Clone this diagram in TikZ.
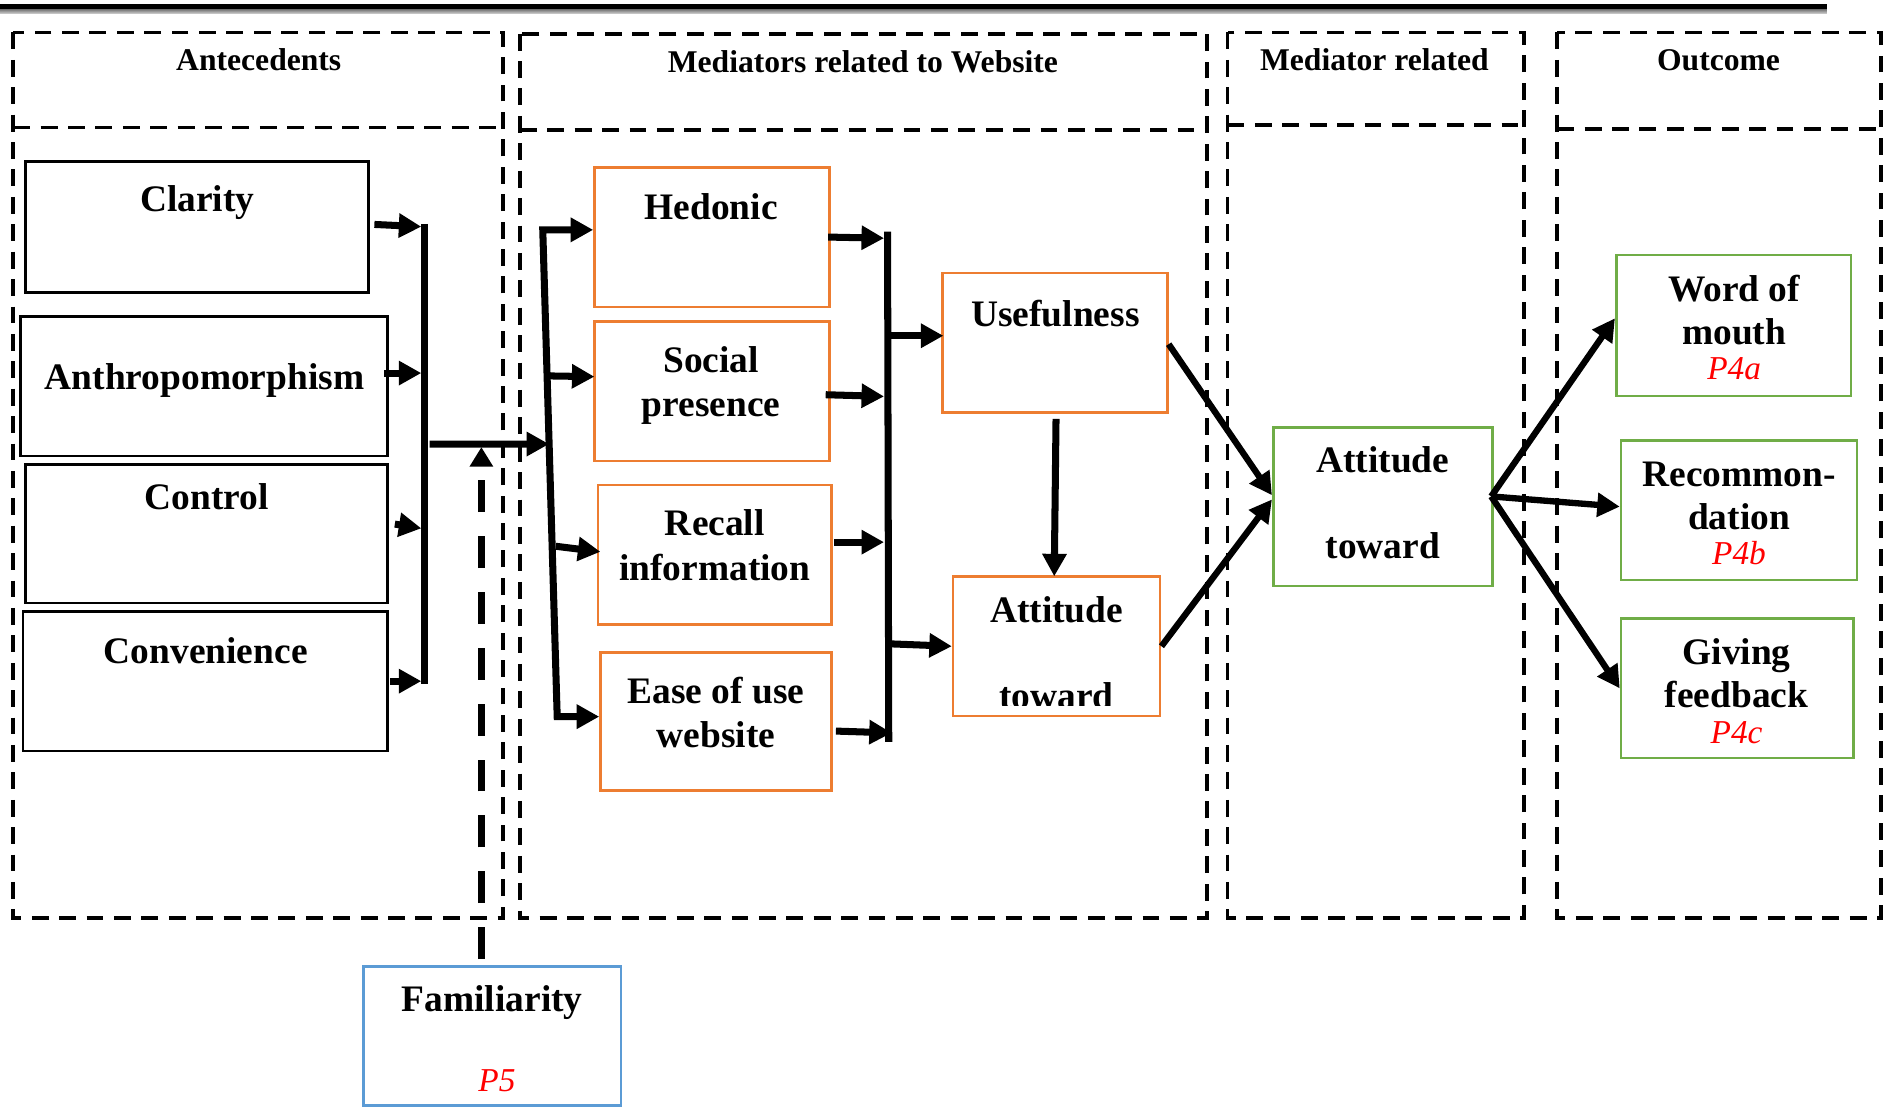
\documentclass[tikz,border=0pt]{standalone}
\usepackage{fontspec}
\setmainfont{Liberation Serif}
\usetikzlibrary{arrows.meta,fit,calc}

\definecolor{medorange}{HTML}{ED7D31}
\definecolor{outgreen}{HTML}{70AD47}
\definecolor{famblue}{HTML}{5B9BD5}
\definecolor{propred}{HTML}{FF0000}

\begin{document}
\begin{tikzpicture}[
  x=0.012034cm, y=-0.012034cm,
  panel/.style={line width=1.1pt, dash pattern=on 4.8pt off 3pt},
  cbox/.style={draw, line width=0.75pt, inner sep=0pt},
  antebox/.style={cbox, draw=black},
  medbox/.style={cbox, draw=medorange},
  outbox/.style={cbox, draw=outgreen},
  modbox/.style={cbox, draw=famblue},
  coltitle/.style={font=\fontsize{9}{11}\selectfont\bfseries, anchor=base, inner sep=0pt},
  boxtext/.style={font=\fontsize{10.65}{12.8}\selectfont\bfseries, anchor=base, inner sep=0pt},
  proptext/.style={font=\fontsize{9.5}{11}\selectfont\itshape, text=propred, anchor=base, inner sep=0pt},
  bus/.style={line width=2pt},
  flow/.style={line width=2pt, -{Triangle[length=6.4pt, width=6.6pt]}},
  twoflow/.style={line width=2pt, {Triangle[length=6.4pt, width=6.6pt]}-{Triangle[length=6.4pt, width=6.6pt]}},
  slant/.style={line width=1.8pt, -{Triangle[length=6.4pt, width=6.6pt]}},
  famflow/.style={line width=2.1pt, dash pattern=on 9.1pt off 6.8pt, dash phase=14.2pt,
                  -{Triangle[length=5.6pt, width=6.4pt]}}
]
\useasboundingbox (0,0) rectangle (1568,920);

% heavy rule along the top
\fill[black] (0,3.3) rectangle (1518,7.7);
\shade[top color=black!55, bottom color=black!15] (0,7.7) rectangle (1518,11.6);

% dashed column panels with their title rows
\foreach \xa/\xb/\ya/\ys in {11/418/27/106, 432/1003/28/108, 1020/1266/27/104, 1294/1563/27/107} {
  \draw[panel] (\xa,\ya) rectangle (\xb,763);
  \draw[panel] (\xa,\ys) -- (\xb,\ys);
}

\node[coltitle] (t-ante) at (215,59) {Antecedents};
\node[coltitle] (t-med) at (717,60.4) {Mediators related to Website};
\node[coltitle] (t-medr) at (1142,58.2) {Mediator related};
\node[coltitle] (t-out) at (1428,59) {Outcome};

% construct boxes
\node[antebox, fit={(21,134) (306,243)}] (clarity) {};
\node[antebox, fit={(17,263) (322,379)}] (anthro) {};
\node[antebox, fit={(21,386) (322,501)}] (control) {};
\node[antebox, fit={(19,508) (322,624)}] (conv) {};
\node[medbox, fit={(494,139) (689,255)}] (hedonic) {};
\node[medbox, fit={(494,267) (689,383)}] (social) {};
\node[medbox, fit={(497,403) (691,519)}] (recall) {};
\node[medbox, fit={(499,542) (691,657)}] (ease) {};
\node[medbox, fit={(783,227) (970,343)}] (useful) {};
\node[medbox, fit={(792,479) (964,595)}] (attw) {};
\node[outbox, fit={(1058,355) (1240,487)}] (attg) {};
\node[outbox, fit={(1343,212) (1538,329)}] (wom) {};
\node[outbox, fit={(1347,366) (1543,482)}] (rec) {};
\node[outbox, fit={(1347,514) (1540,630)}] (giv) {};
\node[modbox, fit={(302,803) (516,918.5)}] (fam) {};

% box captions
\node[boxtext] (clarity-l1) at (164,175.7) {Clarity};
\node[boxtext] (anthro-l1) at (170,323.3) {Anthropomorphism};
\node[boxtext] (control-l1) at (172,423.3) {Control};
\node[boxtext] (conv-l1) at (171,551.5) {Convenience};

\node[boxtext] (hedonic-l1) at (591,182.5) {Hedonic};
\node[boxtext] (social-l1) at (591,309.7) {Social};
\node[boxtext] (social-l2) at (591,346.3) {presence};
\node[boxtext] (recall-l1) at (594,445.3) {Recall};
\node[boxtext] (recall-l2) at (594,482) {information};
\node[boxtext] (ease-l1) at (595,584.4) {Ease of use};
\node[boxtext] (ease-l2) at (595,621) {website};
\node[boxtext] (useful-l1) at (877,271.3) {Usefulness};
\node[boxtext] (attw-l1) at (878,517.6) {Attitude};
\begin{scope}
  \clip ($(attw.north west)+(1,0)$) rectangle ($(attw.east)+(-1,49)$);
  \node[boxtext] (attw-l2) at (878,588.5) {toward};
\end{scope}

\node[boxtext] (attg-l1) at (1149,392.8) {Attitude};
\node[boxtext] (attg-l2) at (1149,464) {toward};
\node[boxtext] (wom-l1) at (1441,250.3) {Word of};
\node[boxtext] (wom-l2) at (1441,285.9) {mouth};
\node[proptext] (wom-p) at (1441,315.4) {P4a};
\node[boxtext] (rec-l1) at (1445,403.9) {Recommon-};
\node[boxtext] (rec-l2) at (1445,439.6) {dation};
\node[proptext] (rec-p) at (1445,469.1) {P4b};
\node[boxtext] (giv-l1) at (1443,552.2) {Giving};
\node[boxtext] (giv-l2) at (1443,587.8) {feedback};
\node[proptext] (giv-p) at (1443,617.7) {P4c};
\node[boxtext] (fam-l1) at (409,840.7) {Familiarity};
\node[proptext] (fam-p) at (413,907.2) {P5};

% antecedents collector
\coordinate (b1t) at (353,186);
\coordinate (b1b) at (353,568);
\draw[bus] (b1t) -- (b1b);
\draw[flow, shorten >=1pt] ($(clarity.east)+(4,-2)$) -- (clarity.east -| b1t);
\draw[flow, shorten >=1pt] ($(anthro.east)+(-4,-11)$) -- ($(anthro.east -| b1t)+(0,-11)$);
\draw[flow, shorten >=1pt] ($(control.east)+(5,-8)$) -- ($(control.east -| b1t)+(0,-4)$);
\draw[flow, shorten >=1pt] ($(conv.east)+(1,0)$) -- (conv.east -| b1t);

% distributor into the website mediators
\coordinate (b2t) at (451,191);
\coordinate (b2b) at (463,595.5);
\coordinate (j1) at (357,369);
\draw[flow] (j1) -- ($(b2t)!0.44!(b2b)$);
\draw[twoflow] (hedonic.west |- b2t) -- (b2t) -- (b2b) -- (ease.west |- b2b);
\draw[flow] ($(b2t)!0.3!(b2b)$) -- ($(social.west)+(1,-12)$);
\draw[flow] ($(b2t)!0.65!(b2b)+(3,0)$) -- ($(recall.west)+(3,-2.5)$);

% collector of the website mediators
\coordinate (b3t) at (737.5,192.5);
\coordinate (b3b) at (738.5,616.5);
\draw[bus] (b3t) -- (b3b);
\draw[flow, shorten >=1pt] ($(hedonic.east)+(-2,0)$) -- ($(hedonic.east -| b3t)+(0,1)$);
\draw[flow, shorten >=1pt] ($(social.east)+(-4,3)$) -- ($(social.east -| b3t)+(0,4.5)$);
\draw[flow, shorten >=1pt] ($(recall.east)+(1,-10.5)$) -- ($(recall.east -| b3t)+(0,-10.5)$);
\draw[flow] ($(ease.east)+(2.5,8)$) -- ($(ease.east -| b3t)+(3.5,9.5)$);
\draw[flow] ($(useful.west -| b3t)+(1,-6)$) -- ($(useful.west)+(2,-6)$);
\draw[flow] ($(attw.west -| b3t)+(2,-2)$) -- (attw.west);
\draw[flow] ($(useful.south)+(1,4)$) -- ($(attw.north)+(-2,1)$);

% towards the outcomes
\draw[slant] ($(useful.east)+(0,1)$) -- ($(attg.west)+(0,-9.5)$);
\draw[slant] (attw.east) -- ($(attg.west)+(0,-6)$);
\coordinate (split) at ($(attg.east)+(-2,-8.5)$);
\draw[slant] (split) -- ($(wom.west)+(0,-6)$);
\draw[slant] (split) -- ($(rec.west)+(0,-3)$);
\draw[slant] (split) -- (giv.west);

% moderating link
\coordinate (famtip) at (400,371.5);
\draw[famflow] (fam.north -| famtip) -- (famtip);
\end{tikzpicture}
\end{document}
